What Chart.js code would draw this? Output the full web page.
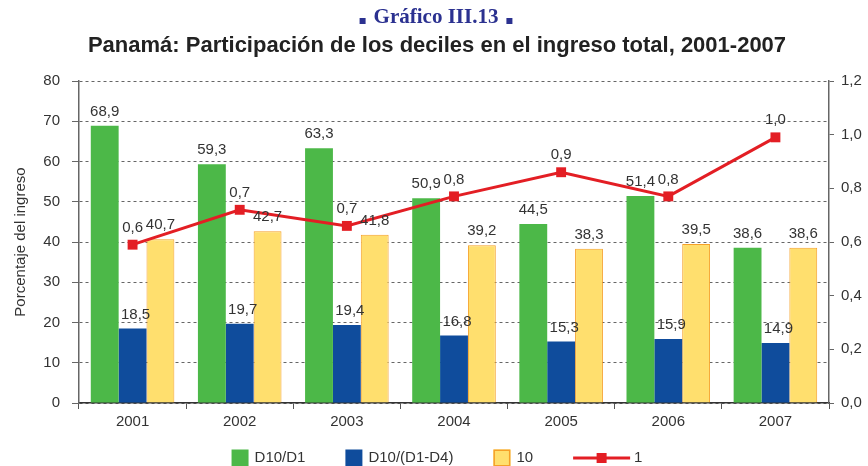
<!DOCTYPE html>
<html>
<head>
<meta charset="utf-8">
<script src="https://cdn.jsdelivr.net/npm/chart.js@4.4.1/dist/chart.umd.min.js"></script>
<style>
  html, body { margin: 0; padding: 0; background: #fff; }
  #contenedor { width: 868px; height: 466px; }
</style>
</head>
<body>
<div id="contenedor"><canvas id="grafico"></canvas></div>
<script>
// datos
const anios = ["2001", "2002", "2003", "2004", "2005", "2006", "2007"];
const d10d1 = [68.9, 59.3, 63.3, 50.9, 44.5, 51.4, 38.6];
const d10d1d4 = [18.5, 19.7, 19.4, 16.8, 15.3, 15.9, 14.9];
const decil10 = [40.7, 42.7, 41.8, 39.2, 38.3, 39.5, 38.6];
const decil1 = [0.59, 0.72, 0.66, 0.77, 0.86, 0.77, 0.99];
const ticksIzq = [0, 10, 20, 30, 40, 50, 60, 70, 80];
const ticksDer = [0, 0.2, 0.4, 0.6, 0.8, 1.0, 1.2];

const FUENTE = "'Liberation Sans', Arial, sans-serif";
const GRIS = "#333";
const coma = (v, d) => v.toFixed(d).replace(".", ",");

// titulos
const pluginTitulos = {
  id: "titulos",
  afterDraw(chart) {
    const ctx = chart.ctx;
    const cx = 436;
    ctx.save();
    ctx.textAlign = "center";
    ctx.textBaseline = "middle";
    ctx.fillStyle = "#2b3190";
    ctx.font = "bold 21px 'Liberation Serif', serif";
    const t1 = "Gráfico III.13";
    ctx.fillText(t1, cx, 18);
    const w1 = ctx.measureText(t1).width;
    ctx.fillRect(cx - w1 / 2 - 14, 18, 6, 6);
    ctx.fillRect(cx + w1 / 2 + 8, 18, 6, 6);
    ctx.fillStyle = "#222";
    ctx.font = "bold 22px " + FUENTE;
    ctx.fillText("Panamá: Participación de los deciles en el ingreso total, 2001-2007", 437, 46);
    ctx.restore();
  }
};

// etiquetas de valores sobre barras y puntos
const pluginEtiquetas = {
  id: "etiquetas",
  afterDatasetsDraw(chart) {
    const ctx = chart.ctx;
    ctx.save();
    ctx.font = "15px " + FUENTE;
    ctx.fillStyle = GRIS;
    ctx.textAlign = "center";
    ctx.textBaseline = "middle";
    chart.data.datasets.forEach((ds, i) => {
      const meta = chart.getDatasetMeta(i);
      meta.data.forEach((el, j) => {
        const v = ds.data[j];
        const dy = ds.type === "line" ? 17 : 14;
        const dx = i === 1 ? 3 : 0;
        ctx.fillText(coma(v, 1), el.x + dx, el.y - dy);
      });
    });
    ctx.restore();
  }
};

// leyenda inferior
const pluginLeyenda = {
  id: "leyendaPropia",
  afterDraw(chart) {
    const ctx = chart.ctx;
    ctx.save();
    ctx.font = "15px " + FUENTE;
    ctx.textBaseline = "middle";
    const y = 458;
    const items = chart.data.datasets.map(ds => ({
      texto: ds.label,
      ds,
      simbolo: ds.type === "line" ? 57 : 17,
      sep: ds.type === "line" ? 4 : 6
    }));
    const gap = 40;
    let total = 0;
    items.forEach((it, k) => {
      it.ancho = it.simbolo + it.sep + ctx.measureText(it.texto).width;
      total += it.ancho + (k ? gap : 0);
    });
    let x = 437 - total / 2;
    items.forEach(it => {
      const ds = it.ds;
      if (ds.type === "line") {
        ctx.strokeStyle = ds.borderColor;
        ctx.lineWidth = 3;
        ctx.beginPath();
        ctx.moveTo(x, y);
        ctx.lineTo(x + it.simbolo, y);
        ctx.stroke();
        ctx.fillStyle = ds.pointBackgroundColor;
        ctx.fillRect(x + it.simbolo / 2 - 5, y - 5, 10, 10);
      } else {
        ctx.fillStyle = ds.backgroundColor;
        ctx.fillRect(x, y - 8.5, 17, 17);
        if (ds.borderWidth) {
          ctx.strokeStyle = ds.borderColor;
          ctx.lineWidth = 1.5;
          ctx.strokeRect(x + 0.75, y - 7.75, 15.5, 15.5);
        }
      }
      ctx.fillStyle = GRIS;
      ctx.fillText(it.texto, x + it.simbolo + it.sep, y);
      x += it.ancho + gap;
    });
    ctx.restore();
  }
};

new Chart(document.getElementById("grafico"), {
  type: "bar",
  data: {
    labels: anios,
    datasets: [
      {
        label: "D10/D1",
        data: d10d1,
        yAxisID: "y",
        backgroundColor: "#4cb848",
        borderWidth: 0,
        order: 1
      },
      {
        label: "D10/(D1-D4)",
        data: d10d1d4,
        yAxisID: "y",
        backgroundColor: "#0f4c9c",
        borderWidth: 0,
        order: 1
      },
      {
        label: "10",
        data: decil10,
        yAxisID: "y",
        backgroundColor: "#ffdf6e",
        borderColor: "#f5a028",
        borderWidth: 1,
        order: 1
      },
      {
        type: "line",
        label: "1",
        data: decil1,
        yAxisID: "y1",
        borderColor: "#e31e24",
        backgroundColor: "#e31e24",
        pointBackgroundColor: "#e31e24",
        pointBorderWidth: 0,
        borderWidth: 3,
        pointStyle: "rect",
        pointRadius: 7,
        tension: 0,
        order: 0
      }
    ]
  },
  options: {
    responsive: true,
    maintainAspectRatio: false,
    animation: false,
    layout: { padding: { top: 81, left: 0, right: 0, bottom: 0 } },
    datasets: { bar: { categoryPercentage: 0.78, barPercentage: 1.0 } },
    plugins: {
      legend: { display: false },
      title: { display: false },
      tooltip: { enabled: false }
    },
    scales: {
      x: {
        offset: true,
        grid: { display: true, offset: true, drawOnChartArea: false, color: "#555", tickLength: 6, tickColor: "#555" },
        border: { color: "#333", width: 1.5 },
        ticks: { color: GRIS, font: { family: FUENTE, size: 15 }, padding: 4 },
        afterFit(s) { s.height = 63; }
      },
      y: {
        position: "left",
        min: 0,
        max: 80,
        afterBuildTicks(s) { s.ticks = ticksIzq.map(v => ({ value: v })); },
        grid: { color: "#666", lineWidth: 1, tickLength: 7, tickColor: "#666", tickBorderDash: [] },
        border: { color: "#666", width: 1.5, dash: [3, 3] },
        ticks: { color: GRIS, font: { family: FUENTE, size: 15 }, padding: 12 },
        title: { display: true, text: "Porcentaje del ingreso", color: GRIS, font: { family: FUENTE, size: 15 }, padding: { top: 12, bottom: 0 } },
        afterFit(s) { s.width = 79; }
      },
      y1: {
        position: "right",
        min: 0,
        max: 1.2,
        afterBuildTicks(s) { s.ticks = ticksDer.map(v => ({ value: v })); },
        grid: { drawOnChartArea: false, color: "#666", tickLength: 5, tickColor: "#666", tickBorderDash: [] },
        border: { color: "#666", width: 1.5 },
        ticks: { color: GRIS, font: { family: FUENTE, size: 15 }, padding: 7, callback: v => coma(v, 1) },
        afterFit(s) { s.width = 39; }
      }
    }
  },
  plugins: [pluginTitulos, pluginEtiquetas, pluginLeyenda]
});
</script>
</body>
</html>
